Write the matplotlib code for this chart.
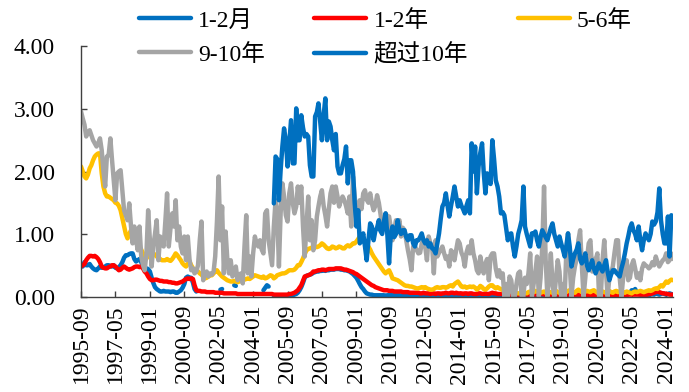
import numpy as np
import pandas as pd
import matplotlib
matplotlib.use("Agg")
import matplotlib.pyplot as plt
from matplotlib.ticker import FormatStrFormatter

# Latin text in a Times-like serif, CJK falls through to Noto
plt.rcParams['font.family'] = ['Liberation Serif', 'Noto Sans CJK SC']
plt.rcParams['axes.unicode_minus'] = False

nan = np.nan

# monthly series, 1995-09 .. 2024-05 (one row per calendar year)
m1_2 = [
    0.50, 0.48, 0.55, 0.50,
    0.50, 0.52, 0.48, 0.45, 0.43, 0.42, 0.45, 0.48, 0.46, 0.46, 0.48, 0.50,
    0.50, 0.49, 0.48, 0.50, 0.46, 0.45, 0.47, 0.50, 0.55, 0.62, 0.66, 0.66,
    0.68, 0.69, 0.69, 0.60, 0.56, 0.58, 0.60, 0.55, 0.48, 0.46, 0.45, 0.44,
    0.40, 0.30, 0.22, 0.15, 0.12, 0.10, 0.08, 0.08, 0.09, 0.08, 0.08, 0.08,
    0.07, 0.08, 0.08, 0.06, 0.06, 0.08, 0.10, 0.14, 0.20, 0.30, 0.32, 0.30,
    0.30, 0.22, 0.12, 0.08, nan, nan, nan, nan, nan, nan, nan, nan,
    nan, nan, nan, nan, nan, 0.11, 0.12, nan, nan, nan, nan, nan,
    nan, 0.18, 0.17, nan, nan, nan, nan, nan, nan, nan, nan, nan,
    nan, nan, nan, nan, nan, nan, 0.10, 0.14, 0.18, 0.16, nan, nan,
    0.01, 0.01, 0.01, 0.01, 0.01, 0.01, 0.01, 0.01, 0.01, 0.02, 0.02, 0.02,
    0.03, 0.04, 0.06, 0.10, 0.15, 0.22, 0.30, 0.33, 0.34, 0.35, 0.36, 0.38,
    0.39, 0.40, 0.40, 0.41, 0.41, 0.42, 0.41, 0.42, 0.42, 0.43, 0.43, 0.43,
    0.44, 0.44, 0.44, 0.43, 0.43, 0.42, 0.42, 0.41, 0.40, 0.38, 0.36, 0.33,
    0.30, 0.25, 0.20, 0.15, 0.12, 0.08, 0.05, 0.04, 0.03, 0.03, 0.02, 0.02,
    0.02, 0.02, 0.02, 0.02, 0.02, 0.01, 0.02, 0.02, 0.02, 0.02, 0.02, 0.02,
    0.02, 0.02, 0.01, 0.02, 0.02, 0.02, 0.02, 0.01, 0.02, 0.02, 0.02, 0.02,
    0.02, 0.02, 0.02, 0.02, 0.01, 0.02, 0.02, 0.02, 0.02, 0.01, 0.02, 0.02,
    0.02, 0.02, 0.02, 0.02, 0.02, 0.02, 0.02, 0.02, 0.01, 0.02, 0.02, 0.02,
    0.02, 0.02, 0.02, 0.01, 0.02, 0.02, 0.02, 0.02, 0.02, 0.02, 0.01, 0.02,
    0.02, 0.02, 0.02, 0.02, 0.02, 0.02, 0.01, 0.02, 0.02, 0.02, 0.02, 0.02,
    0.01, 0.01, 0.01, 0.01, 0.01, 0.01, 0.01, 0.01, 0.01, 0.01, 0.01, 0.01,
    0.01, 0.01, 0.01, 0.01, 0.01, 0.01, 0.01, 0.01, 0.01, 0.01, 0.01, 0.01,
    0.01, 0.01, 0.01, 0.01, 0.01, 0.01, 0.01, 0.01, 0.01, 0.01, 0.01, 0.01,
    0.01, 0.01, 0.01, 0.01, 0.01, 0.01, 0.01, 0.01, 0.01, 0.01, 0.01, 0.01,
    0.01, 0.01, 0.01, 0.01, 0.01, 0.01, 0.01, 0.01, 0.01, 0.01, 0.01, 0.01,
    0.01, 0.01, 0.01, 0.01, 0.01, 0.01, 0.02, 0.03, 0.02, 0.01, 0.01, 0.01,
    0.02, 0.03, 0.04, 0.06, 0.10, 0.08, 0.12, 0.06, 0.04, 0.03, 0.02, 0.02,
    0.02, 0.03, 0.02, 0.03, 0.04, 0.03, 0.05, 0.04, 0.03, 0.04, 0.05, 0.04,
    0.03, 0.04, 0.05, 0.04, 0.03,
]

y1_2 = [
    0.48, 0.50, 0.52, 0.58,
    0.62, 0.65, 0.65, 0.64, 0.65, 0.63, 0.60, 0.55, 0.48, 0.46, 0.45, 0.45,
    0.47, 0.48, 0.50, 0.50, 0.48, 0.45, 0.42, 0.43, 0.46, 0.48, 0.46, 0.44,
    0.43, 0.44, 0.45, 0.47, 0.48, 0.48, 0.47, 0.48, 0.45, 0.40, 0.37, 0.32,
    0.28, 0.26, 0.26, 0.27, 0.27, 0.26, 0.25, 0.25, 0.24, 0.24, 0.24, 0.23,
    0.23, 0.22, 0.22, 0.21, 0.21, 0.22, 0.23, 0.24, 0.26, 0.28, 0.29, 0.28,
    0.29, 0.28, 0.18, 0.10, 0.09, 0.09, 0.08, 0.08, 0.08, 0.07, 0.07, 0.07,
    0.07, 0.07, 0.06, 0.06, 0.06, 0.06, 0.06, 0.05, 0.05, 0.05, 0.05, 0.05,
    0.05, 0.05, 0.05, 0.04, 0.04, 0.04, 0.04, 0.04, 0.04, 0.04, 0.04, 0.04,
    0.04, 0.04, 0.04, 0.04, 0.04, 0.04, 0.04, 0.04, 0.04, 0.04, 0.04, 0.04,
    0.03, 0.03, 0.03, 0.03, 0.03, 0.03, 0.03, 0.03, 0.03, 0.04, 0.04, 0.05,
    0.06, 0.08, 0.10, 0.14, 0.18, 0.25, 0.32, 0.33, 0.34, 0.35, 0.37, 0.40,
    0.40, 0.41, 0.42, 0.42, 0.43, 0.43, 0.42, 0.43, 0.44, 0.44, 0.44, 0.44,
    0.45, 0.45, 0.45, 0.45, 0.44, 0.43, 0.43, 0.42, 0.41, 0.40, 0.39, 0.37,
    0.36, 0.34, 0.32, 0.30, 0.28, 0.26, 0.24, 0.22, 0.20, 0.18, 0.17, 0.15,
    0.14, 0.13, 0.12, 0.11, 0.10, 0.10, 0.10, 0.09, 0.09, 0.09, 0.08, 0.08,
    0.08, 0.08, 0.08, 0.07, 0.07, 0.07, 0.07, 0.06, 0.06, 0.06, 0.06, 0.06,
    0.06, 0.05, 0.05, 0.06, 0.05, 0.05, 0.05, 0.04, 0.05, 0.05, 0.04, 0.05,
    0.05, 0.04, 0.05, 0.05, 0.06, 0.05, 0.05, 0.06, 0.06, 0.05, 0.06, 0.05,
    0.05, 0.05, 0.04, 0.05, 0.05, 0.04, 0.05, 0.05, 0.04, 0.04, 0.04, 0.05,
    0.05, 0.04, 0.04, 0.05, 0.04, 0.04, 0.05, 0.06, 0.05, 0.05, 0.04, 0.04,
    0.04, 0.04, 0.03, 0.03, 0.04, 0.03, 0.03, 0.03, 0.03, 0.04, 0.03, 0.03,
    0.03, 0.03, 0.04, 0.03, 0.03, 0.03, 0.04, 0.04, 0.03, 0.03, 0.03, 0.04,
    0.04, 0.03, 0.03, 0.04, 0.03, 0.03, 0.03, 0.04, 0.04, 0.03, 0.03, 0.03,
    0.03, 0.03, 0.03, 0.03, 0.04, 0.04, 0.03, 0.03, 0.03, 0.03, 0.03, 0.03,
    0.03, 0.02, 0.02, 0.02, 0.03, 0.02, 0.02, 0.02, 0.02, 0.02, 0.02, 0.02,
    0.02, 0.02, 0.02, 0.02, 0.02, 0.02, 0.03, 0.02, 0.02, 0.02, 0.02, 0.02,
    0.02, 0.02, 0.03, 0.03, 0.03, 0.03, 0.03, 0.03, 0.03, 0.03, 0.03, 0.03,
    0.03, 0.03, 0.04, 0.04, 0.05, 0.06, 0.07, 0.08, 0.07, 0.06, 0.05, 0.05,
    0.04, 0.04, 0.03, 0.03, 0.03,
]

y5_6 = [
    2.08, 2.00, 1.92, 1.89,
    1.95, 2.05, 2.10, 2.18, 2.24, 2.27, 2.29, 2.29, 1.97, 1.76, 1.65, 1.60,
    1.60, 1.58, 1.56, 1.54, 1.50, 1.49, 1.45, 1.38, 1.25, 1.12, 1.00, 0.93,
    1.00, 1.06, 1.00, 0.96, 0.90, 0.85, 0.80, 0.75, 0.69, 0.65, 0.61, 0.65,
    0.69, 0.69, 0.69, 0.67, 0.64, 0.62, 0.60, 0.58, 0.58, 0.58, 0.60, 0.58,
    0.57, 0.60, 0.64, 0.69, 0.66, 0.62, 0.58, 0.53, 0.50, 0.48, 0.52, 0.56,
    0.50, 0.45, 0.42, 0.42, 0.40, 0.37, 0.35, 0.32, 0.29, 0.30, 0.32, 0.34,
    0.34, 0.37, 0.40, 0.42, 0.38, 0.35, 0.32, 0.30, 0.28, 0.26, 0.25, 0.24,
    0.24, 0.25, 0.24, 0.23, 0.24, 0.25, 0.26, 0.27, 0.28, 0.29, 0.28, 0.30,
    0.32, 0.34, 0.33, 0.32, 0.31, 0.30, 0.32, 0.29, 0.30, 0.32, 0.34, 0.33,
    0.29, 0.31, 0.34, 0.35, 0.36, 0.37, 0.37, 0.38, 0.40, 0.42, 0.42, 0.42,
    0.43, 0.46, 0.50, 0.50, 0.55, 0.61, 0.68, 0.74, 0.76, 0.77, 0.78, 0.80,
    0.80, 0.79, 0.80, 0.82, 0.85, 0.83, 0.80, 0.77, 0.76, 0.77, 0.80, 0.79,
    0.77, 0.78, 0.80, 0.79, 0.77, 0.77, 0.80, 0.82, 0.80, 0.82, 0.85, 0.85,
    0.88, 0.92, 0.96, 0.98, 0.92, 0.88, 0.84, 0.80, 0.75, 0.69, 0.64, 0.60,
    0.56, 0.52, 0.48, 0.44, 0.40, 0.37, 0.40, 0.42, 0.36, 0.29, 0.28, 0.27,
    0.26, 0.24, 0.22, 0.20, 0.18, 0.17, 0.17, 0.16, 0.16, 0.15, 0.14, 0.13,
    0.13, 0.14, 0.15, 0.14, 0.15, 0.13, 0.12, 0.11, 0.11, 0.12, 0.14, 0.15,
    0.14, 0.14, 0.15, 0.15, 0.14, 0.15, 0.17, 0.18, 0.16, 0.20, 0.22, 0.24,
    0.20, 0.16, 0.15, 0.16, 0.14, 0.15, 0.16, 0.15, 0.16, 0.14, 0.11, 0.13,
    0.17, 0.15, 0.12, 0.11, 0.13, 0.16, 0.18, 0.18, 0.15, 0.13, 0.15, 0.13,
    0.12, 0.10, 0.09, 0.08, 0.06, 0.08, 0.10, 0.07, 0.06, 0.06, 0.05, 0.05,
    0.06, 0.08, 0.06, 0.05, 0.07, 0.08, 0.06, 0.07, 0.09, 0.08, 0.07, 0.06,
    0.07, 0.08, 0.06, 0.05, 0.07, 0.07, 0.06, 0.08, 0.09, 0.07, 0.06, 0.07,
    0.08, 0.06, 0.07, 0.09, 0.10, 0.09, 0.07, 0.06, 0.09, 0.11, 0.09, 0.07,
    0.06, 0.08, 0.09, 0.08, 0.07, 0.09, 0.10, 0.08, 0.06, 0.05, 0.06, 0.08,
    0.07, 0.06, 0.08, 0.09, 0.07, 0.06, 0.08, 0.09, 0.07, 0.08, 0.09, 0.07,
    0.06, 0.08, 0.07, 0.06, 0.05, 0.07, 0.08, 0.07, 0.08, 0.09, 0.08, 0.07,
    0.08, 0.09, 0.10, 0.09, 0.10, 0.12, 0.13, 0.12, 0.15, 0.18, 0.16, 0.20,
    0.24, 0.22, 0.25, 0.27, 0.26,
]

y9_10 = [
    2.96, 2.85, 2.75, 2.56,
    2.62, 2.66, 2.58, 2.50, 2.45, 2.40, 2.45, 2.53, 2.34, 2.00, 1.76, 2.24,
    2.26, 2.53, 2.20, 1.86, 1.54, 1.97, 2.00, 2.02, 1.70, 1.38, 1.30, 1.22,
    1.49, 1.12, 0.85, 1.12, 0.90, 0.74, 1.12, 0.64, 0.50, 0.42, 0.69, 1.38,
    0.90, 0.48, 0.80, 1.00, 1.22, 0.58, 0.96, 0.85, 0.80, 1.20, 1.65, 0.80,
    1.10, 1.33, 1.12, 1.54, 0.90, 1.12, 0.80, 0.69, 0.96, 0.58, 0.96, 0.60,
    0.42, 0.45, 0.37, 0.40, 0.50, 0.90, 1.20, 0.26, 0.37, 0.40, 0.32, 0.37,
    0.35, 0.40, 0.64, 1.20, 1.92, 0.90, 1.44, 0.37, 1.04, 0.60, 0.37, 0.58,
    0.32, 0.40, 0.48, 0.26, 0.35, 0.37, 0.21, 0.80, 1.30, 0.37, 0.64, 0.32,
    0.69, 0.96, 0.85, 0.80, 0.90, 0.75, 0.69, 1.33, 1.38, 0.90, 0.69, 0.50,
    1.12, 1.54, 1.38, 0.48, 1.33, 1.81, 1.60, 1.30, 1.20, 1.65, 1.81, 1.50,
    1.33, 1.44, 1.76, 1.50, 1.76, 1.12, 0.64, 1.12, 1.60, 0.90, 1.22, 0.74,
    0.90, 1.28, 1.44, 1.60, 1.70, 1.45, 1.30, 1.12, 1.40, 1.65, 1.76, 1.50,
    1.76, 1.60, 1.44, 1.54, 1.60, 1.54, 1.45, 1.33, 1.60, 1.12, 1.92, 1.60,
    1.30, 1.22, 1.54, 1.40, 1.65, 1.70, 1.55, 1.50, 1.65, 1.49, 1.38, 1.45,
    1.62, 1.50, 1.33, 1.12, 1.22, 1.33, 1.28, 1.28, 1.10, 0.90, 1.06, 1.22,
    1.15, 1.22, 0.96, 1.10, 1.06, 0.90, 0.74, 0.60, 0.42, 0.80, 0.80, 0.75,
    0.69, 0.70, 0.85, 0.90, 0.80, 0.58, 0.96, 0.85, 0.80, 0.37, 0.90, 0.64,
    0.70, 0.75, 0.80, 0.69, 0.60, 0.64, 0.48, 0.74, 0.70, 0.58, 0.75, 0.90,
    0.85, 0.70, 0.64, 0.48, 0.70, 0.80, 0.69, 0.90, 0.69, 0.58, 0.42, 0.37,
    0.64, 0.48, 0.37, 0.53, 0.60, 0.26, 0.64, 0.69, 0.69, 0.45, 0.32, 0.42,
    0.30, 0.37, 0.00, 0.20, 0.00, 0.32, 0.26, 0.00, 0.00, 0.20, 0.37, 0.40,
    0.00, 0.00, 0.30, 0.20, 0.37, 0.69, 0.00, 0.20, 0.40, 0.64, 0.00, 0.30,
    0.80, 1.76, 0.60, 0.00, 0.30, 0.69, 0.20, 0.00, 0.30, 0.58, 0.40, 0.00,
    0.20, 0.00, 0.69, 1.01, 0.50, 0.00, 0.30, 0.48, 0.60, 0.90, 1.06, 0.50,
    0.00, 0.30, 0.60, 0.85, 0.90, 0.40, 0.60, 0.58, 0.69, 0.00, 0.00, 0.58,
    0.90, 0.40, 0.00, 0.30, 0.37, 0.48, 0.70, 0.90, 0.90, 0.30, 0.00, 0.30,
    0.48, 0.58, 0.26, 0.30, 0.50, 0.58, 0.45, 0.30, 0.37, 0.26, 0.45, 0.53,
    0.50, 0.48, 0.45, 0.48, 0.55, 0.50, 0.64, 0.55, 0.48, 0.53, 0.58, 0.60,
    0.69, 0.55, 0.58, 0.69, 0.60,
]

# "超过10年" only starts in 2005-01
over10_start = '2005-01'
over10 = [
    1.49, 2.24, 2.20, 1.54, 2.02, 2.40, 2.69, 2.50, 2.08, 2.45, 2.82, 2.13,
    2.13, 3.01, 2.50, 2.50, 2.90, 2.70, 2.56, 2.60, 2.56, 2.10, 1.92, 1.92,
    2.88, 2.95, 3.09, 2.80, 2.50, 2.90, 3.17, 2.50, 2.80, 2.72, 2.50, 2.34,
    2.60, 2.08, 1.97, 1.97, 2.10, 2.20, 2.40, 1.81, 2.18, 2.18, 2.00, 1.50,
    1.12, 1.38, 0.85, 0.90, 1.01, 0.80, 0.58, 0.90, 1.17, 1.12, 0.90, 1.05,
    1.10, 1.22, 1.05, 1.00, 1.20, 1.33, 1.00, 0.53, 1.00, 1.12, 0.95, 1.00,
    1.22, 1.05, 1.00, 1.06, 1.06, 0.95, 0.90, 0.98, 0.98, 0.85, 0.80, 0.90,
    0.90, 0.95, 1.01, 0.90, 0.85, 0.90, 0.80, 0.85, 0.77, 0.75, 0.69, 0.85,
    1.01, 1.25, 1.44, 1.50, 1.65, 1.45, 1.28, 1.45, 1.60, 1.76, 1.60, 1.44,
    1.54, 1.45, 1.40, 1.33, 1.45, 1.54, 1.33, 2.45, 2.00, 2.40, 1.65, 2.08,
    2.30, 2.45, 2.00, 1.65, 1.97, 1.90, 1.80, 2.50, 2.20, 1.86, 1.76, 1.60,
    1.33, 1.35, 1.30, 1.10, 0.90, 1.00, 1.01, 0.80, 0.64, 0.80, 1.00, 1.10,
    1.22, 1.76, 1.12, 1.00, 0.90, 0.80, 1.01, 1.00, 1.04, 0.90, 0.80, 0.95,
    1.06, 1.00, 0.95, 0.90, 1.00, 1.10, 1.17, 1.00, 0.90, 0.80, 0.96, 0.85,
    0.75, 0.64, 0.80, 1.01, 0.80, 0.48, 0.60, 0.69, 0.75, 0.85, 0.60, 0.53,
    0.60, 0.69, 0.50, 0.42, 0.50, 0.58, 0.45, 0.37, 0.45, 0.53, 0.45, 0.40,
    0.50, 0.58, 0.40, 0.26, 0.35, 0.42, 0.42, 0.38, 0.35, 0.32, 0.45, 0.55,
    0.69, 0.85, 0.96, 1.10, 1.17, 1.06, 1.00, 0.90, 1.12, 0.90, 0.74, 0.90,
    1.01, 0.95, 0.90, 1.00, 1.20, 1.15, 1.20, 1.35, 1.73, 1.22, 1.00, 0.85,
    0.85, 1.28, 0.64, 1.30, 1.28,
]

names = ['1-2月', '1-2年', '5-6年', '9-10年', '超过10年']
colors = ['#0070C0', '#FF0000', '#FFC000', '#A5A5A5', '#0070C0']

dates = pd.date_range('1995-09', periods=len(y9_10), freq='MS')
dates_over10 = pd.date_range(over10_start, periods=len(over10), freq='MS')

fig = plt.figure(figsize=(6.89, 3.92), dpi=100)
ax = fig.add_axes([0.1176, 0.2436, 0.8592, 0.6378])

# draw in Excel series order so later series sit on top
lines = []
for vals, x, name, col in zip([m1_2, y1_2, y5_6, y9_10, over10],
                              [dates, dates, dates, dates, dates_over10],
                              names, colors):
    ln, = ax.plot(x, vals, color=col, lw=3.2, label=name,
                  solid_joinstyle='round', solid_capstyle='round')
    lines.append(ln)

ax.set_xlim(dates[0], dates[-1])
ax.set_ylim(0, 4)
ax.set_yticks(np.arange(0, 4.5, 1.0))
ax.yaxis.set_major_formatter(FormatStrFormatter('%.2f'))

tick_dates = dates[::20]
ax.set_xticks(tick_dates)
ax.set_xticklabels([d.strftime('%Y-%m') for d in tick_dates], rotation=90)

for side in ['top', 'right']:
    ax.spines[side].set_visible(False)
for side in ['left', 'bottom']:
    ax.spines[side].set_color('#404040')
    ax.spines[side].set_linewidth(1.0)

ax.tick_params(axis='both', direction='in', length=4, width=1,
               color='#404040', labelsize=17)
ax.tick_params(axis='y', pad=19)
ax.tick_params(axis='x', pad=6)

# legend: row-major look (1-2月 1-2年 5-6年 / 9-10年 超过10年)
order = [0, 3, 1, 4, 2]
fig.legend([lines[i] for i in order], [names[i] for i in order],
           ncol=3, loc='upper left', bbox_to_anchor=(0.2017, 0.975),
           frameon=False, fontsize=17, borderpad=0, borderaxespad=0,
           handlelength=2.2, handletextpad=0.3, columnspacing=2.1,
           labelspacing=0.5)

fig.savefig('out.png', dpi=100)
plt.close(fig)
